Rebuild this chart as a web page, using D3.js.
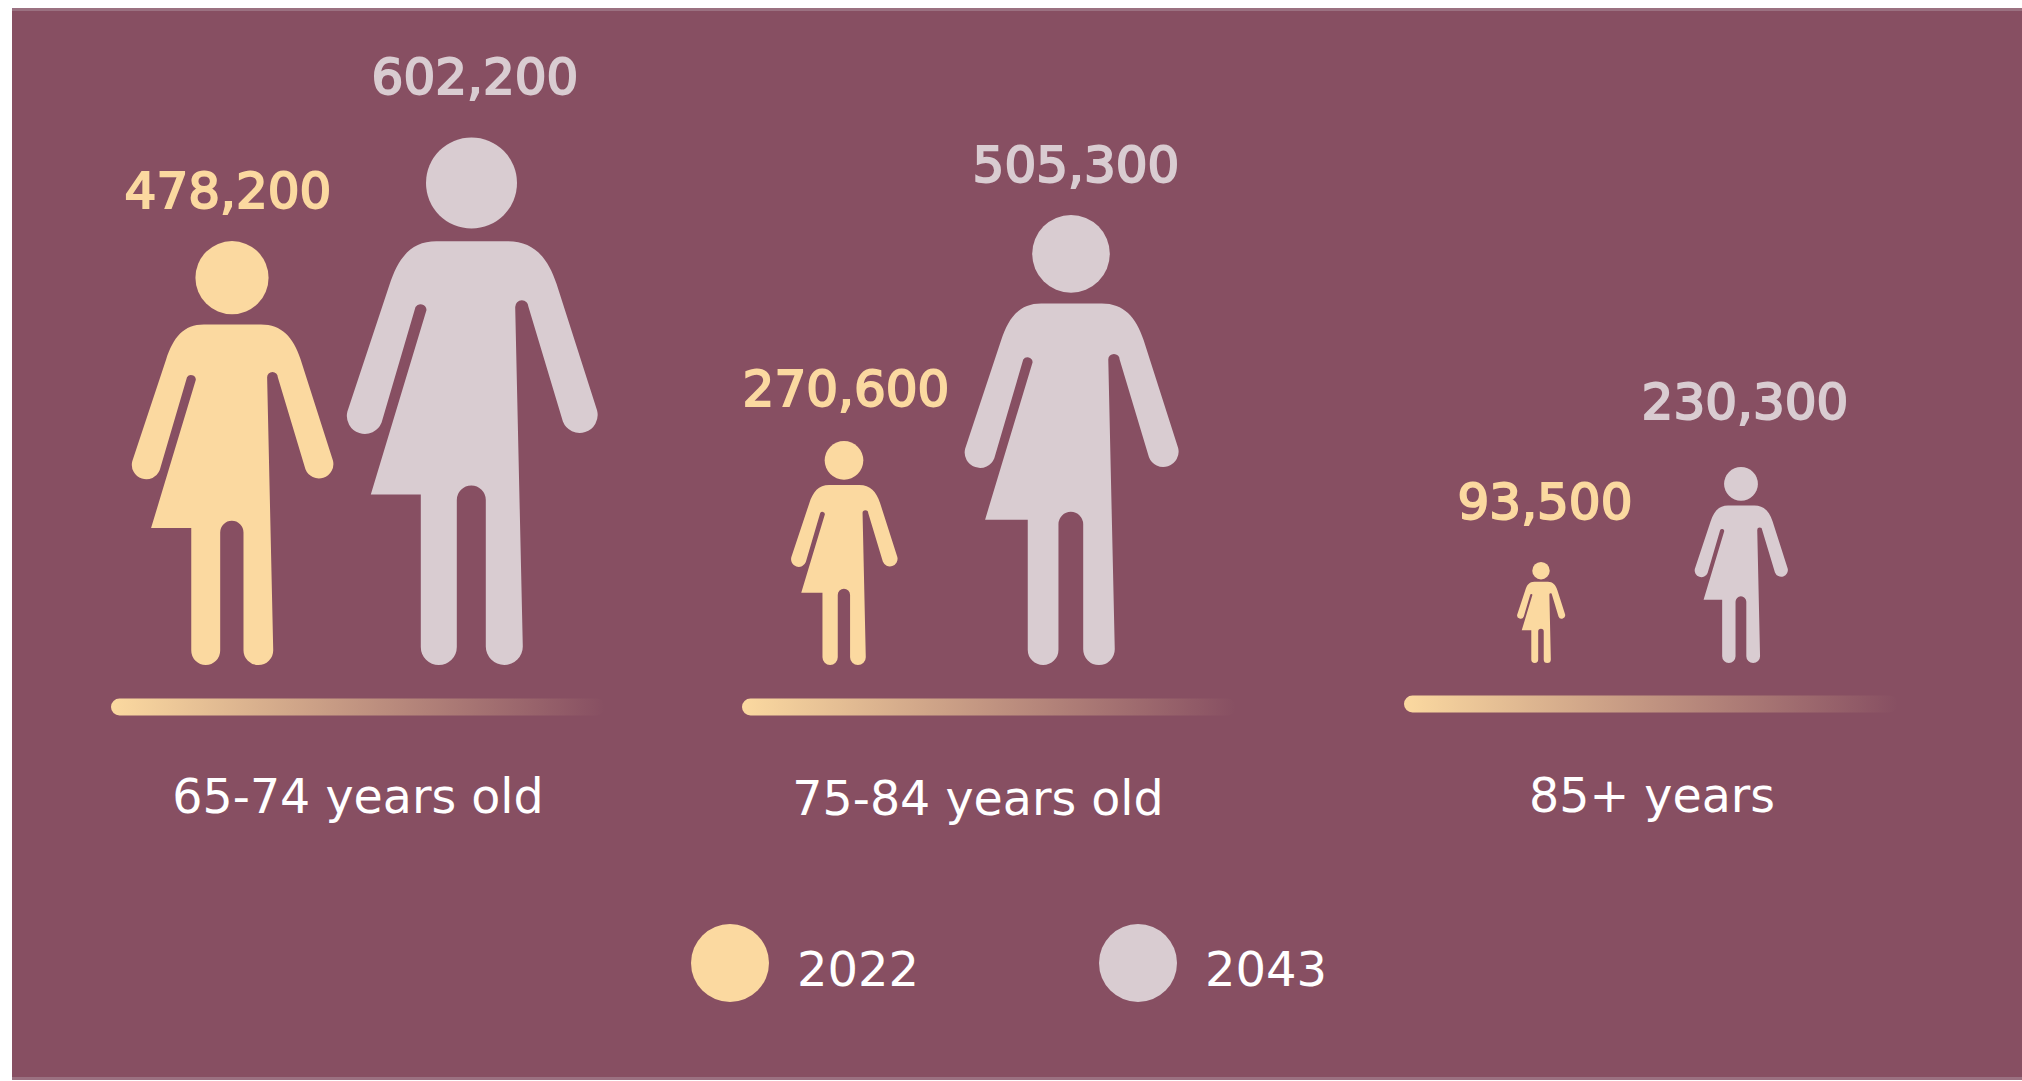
<!DOCTYPE html>
<html>
<head>
<meta charset="utf-8">
<script src="https://cdn.jsdelivr.net/npm/d3@7"></script>
<style>
  html, body { margin: 0; padding: 0; background: #fff; overflow: hidden; }
  text { font-family: "DejaVu Sans", sans-serif; }
</style>
</head>
<body>
<svg id="chart" width="2022" height="1081"></svg>
<script>
// Population by age band
const ageGroups = ["65-74 years old", "75-84 years old", "85+ years"];
const years = ["2022", "2043"];
const values2022 = [478200, 270600, 93500];
const values2043 = [602200, 505300, 230300];

// Layout, per age band
const figureX = { "2022": [232, 844, 1541], "2043": [471.5, 1071, 1741] };
const labelX = { "2022": [228, 846, 1545], "2043": [475, 1076, 1745] };
const labelGap = { "2022": [33, 35, 43], "2043": [44, 33, 48] };
const groundY = [665, 665, 663];
const barX = [111, 742, 1404];
const barY = [707, 707, 704];
const categoryX = [358, 978, 1652];
const categoryY = [813, 815, 812];

const colors = { "2022": "#fbd9a0", "2043": "#d9ccd1" };
const background = "#874f62";
const baseHeight = 527.5;

const fmt = d3.format(",");
const heightScale = d3.scaleLinear()
  .domain([93500, 270600, 505300, 602200])
  .range([101, 224, 450, baseHeight]);

// Outline of the pictogram at its largest size, feet on y = 0
const bodyOutline = "M-35,-423.7 L36,-423.7 C62,-423.7 76,-408 85.1,-381 L125.6,-254.5 " +
  "A18,18 0 0 1 91.4,-243.5 L57,-358 A6.65,6.65 0 0 0 43.7,-358 " +
  "L51.3,-18.5 A18.5,18.5 0 0 1 14.3,-18.5 L14.3,-165 A14.5,14.5 0 0 0 -14.7,-165 " +
  "L-14.7,-18 A18,18 0 0 1 -50.7,-18 L-50.7,-170.4 L-100.7,-170.4 L-45,-355 " +
  "A6,6 0 0 0 -56,-358 L-89.9,-242.5 A18,18 0 0 1 -124.1,-253.5 L-82.1,-380 " +
  "C-73,-408 -60,-423.7 -35,-423.7 Z";

const svg = d3.select("#chart");

svg.append("rect").attr("x", 12).attr("y", 8).attr("width", 2010).attr("height", 1072)
  .attr("fill", "#9b7181");
svg.append("rect").attr("x", 12).attr("y", 11).attr("width", 2010).attr("height", 1066)
  .attr("fill", background);

const defs = svg.append("defs");
const grad = defs.append("linearGradient").attr("id", "fade");
grad.append("stop").attr("offset", "0%").attr("stop-color", colors["2022"]);
grad.append("stop").attr("offset", "100%").attr("stop-color", colors["2022"]).attr("stop-opacity", 0);

const rows = years.flatMap(y => (y === "2022" ? values2022 : values2043).map((v, i) => ({ year: y, value: v, i })));

const people = svg.append("g").selectAll("g").data(rows).join("g")
  .attr("fill", d => colors[d.year])
  .attr("transform", d => `translate(${figureX[d.year][d.i]},${groundY[d.i]}) scale(${heightScale(d.value) / baseHeight})`);
people.append("circle").attr("cy", -482).attr("r", 45.5);
people.append("path").attr("d", bodyOutline);

svg.append("g").selectAll("text").data(rows).join("text")
  .attr("x", d => labelX[d.year][d.i])
  .attr("y", d => groundY[d.i] - heightScale(d.value) - labelGap[d.year][d.i])
  .attr("text-anchor", "middle")
  .attr("font-size", 50)
  .attr("fill", d => colors[d.year])
  .attr("stroke", d => colors[d.year])
  .attr("stroke-width", 2)
  .text(d => fmt(d.value));

svg.append("g").selectAll("rect").data(ageGroups).join("rect")
  .attr("x", (d, i) => barX[i])
  .attr("y", (d, i) => barY[i] - 8.5)
  .attr("width", 494)
  .attr("height", 17)
  .attr("rx", 8.5)
  .attr("fill", "url(#fade)");

svg.append("g").selectAll("text").data(ageGroups).join("text")
  .attr("x", (d, i) => categoryX[i])
  .attr("y", (d, i) => categoryY[i])
  .attr("text-anchor", "middle")
  .attr("font-size", 47.5)
  .attr("fill", "#fff")
  .text(d => d);

const legend = svg.append("g").selectAll("g").data(years).join("g")
  .attr("transform", (d, i) => `translate(${[730, 1138][i]},963)`);
legend.append("circle").attr("r", 39).attr("fill", d => colors[d]);
legend.append("text").attr("x", 67).attr("y", 22.5).attr("font-size", 48).attr("fill", "#fff").text(d => d);
</script>
</body>
</html>
